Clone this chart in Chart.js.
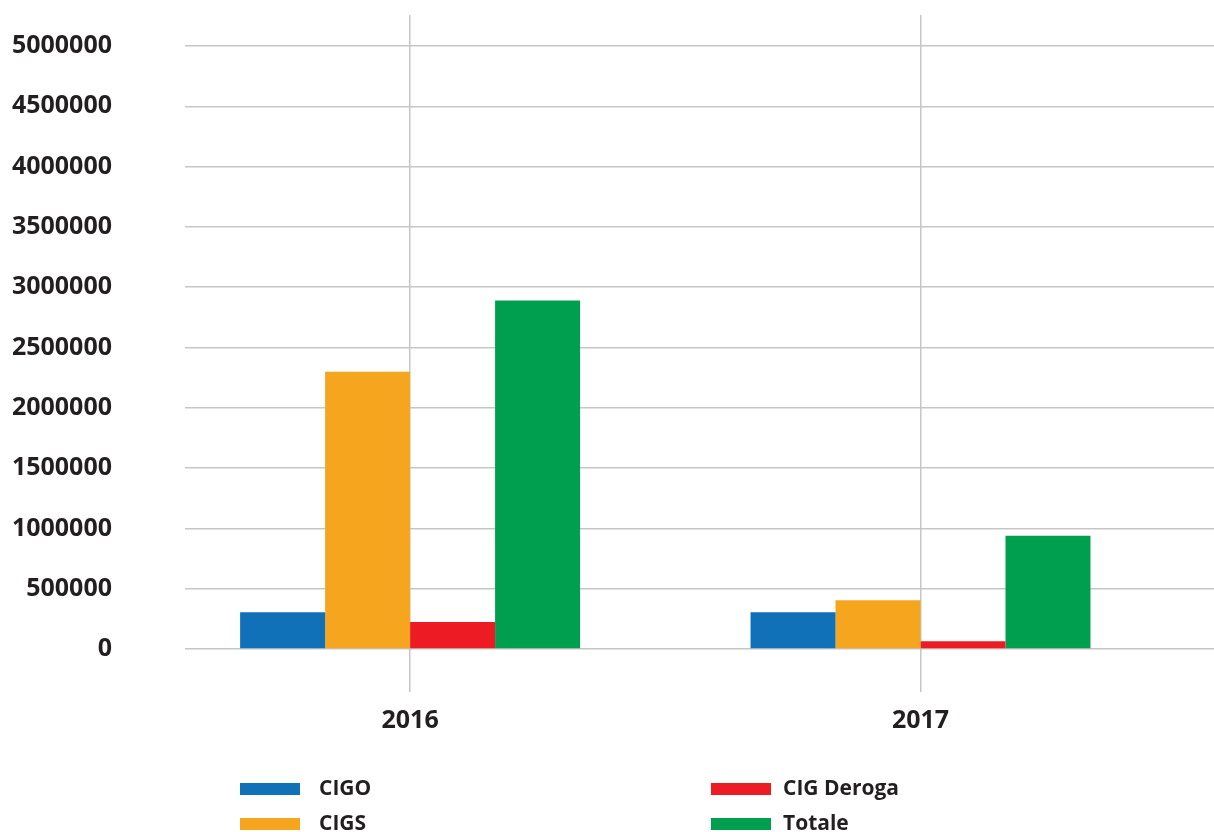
<!DOCTYPE html>
<html lang="it">
<head>
    <meta charset="UTF-8">
    <title>CIG 2016-2017</title>
    <script src="https://cdn.jsdelivr.net/npm/chart.js"></script>
    <style>
        html, body { margin: 0; padding: 0; background: #fff; }
        #wrap { width: 1214px; height: 832px; position: relative; }
    </style>
</head>
<body>
    <div id="wrap"><canvas id="cigChart"></canvas></div>
    <script>
        const years = [2016, 2017];
        const cigo = [305000, 305000];
        const cigs = [2300000, 405000];
        const cigDeroga = [225000, 65000];
        const totale = [2890000, 940000];
        const yTicks = [0, 500000, 1000000, 1500000, 2000000, 2500000, 3000000, 3500000, 4000000, 4500000, 5000000];

        const seriesNames = ['CIGO', 'CIGS', 'CIG Deroga', 'Totale'];
        const seriesColors = ['#1071b9', '#f6a51f', '#ed1c24', '#009f4f'];
        const seriesValues = [cigo, cigs, cigDeroga, totale];

        const textColor = '#231f20';
        const gridColor = '#c6c6c6';
        const fontFamily = '"Open Sans", "Liberation Sans", sans-serif';

        // legend in two columns, drawn by hand
        const legendPlugin = {
            id: 'twoColLegend',
            afterDraw(chart) {
                const ctx = chart.ctx;
                const boxX = [240, 711];
                const textX = [319, 783];
                const rowY = [789, 824];
                ctx.save();
                ctx.font = 'bold 21px ' + fontFamily;
                ctx.textBaseline = 'middle';
                chart.data.datasets.forEach((ds, i) => {
                    const col = Math.floor(i / 2), row = i % 2;
                    ctx.fillStyle = ds.backgroundColor;
                    ctx.fillRect(boxX[col], rowY[row] - 6, 60, 12);
                    ctx.fillStyle = textColor;
                    ctx.fillText(ds.label, textX[col], rowY[row]);
                });
                ctx.restore();
            }
        };

        const ctx = document.getElementById('cigChart').getContext('2d');
        new Chart(ctx, {
            type: 'bar',
            data: {
                datasets: seriesNames.map((name, i) => ({
                    label: name,
                    data: years.map((y, j) => ({ x: y, y: seriesValues[i][j] })),
                    backgroundColor: seriesColors[i],
                    borderWidth: 0,
                    barPercentage: 1,
                    categoryPercentage: 0.666
                }))
            },
            options: {
                responsive: true,
                maintainAspectRatio: false,
                animation: false,
                layout: { padding: { top: 15, right: 0, left: 0, bottom: 0 } },
                plugins: { legend: { display: false }, tooltip: { enabled: false } },
                scales: {
                    x: {
                        type: 'linear',
                        min: 2015.559,
                        max: 2017.575,
                        offset: false,
                        afterBuildTicks: s => { s.ticks = years.map(v => ({ value: v })); },
                        afterFit: s => { s.height = 140; s.paddingLeft = 0; s.paddingRight = 0; },
                        grid: { color: gridColor, lineWidth: 1.5, drawTicks: false, offset: false },
                        border: { display: false },
                        ticks: {
                            padding: 14,
                            color: textColor,
                            font: { family: fontFamily, size: 25, weight: 'bold' },
                            callback: v => String(v)
                        }
                    },
                    y: {
                        min: -356000,
                        max: 5257000,
                        afterBuildTicks: s => { s.ticks = yTicks.map(v => ({ value: v })); },
                        afterFit: s => { s.width = 185; s.paddingTop = 0; s.paddingBottom = 0; },
                        grid: { color: gridColor, lineWidth: 1.5, drawTicks: false },
                        border: { display: false },
                        ticks: {
                            padding: 73,
                            color: textColor,
                            font: { family: fontFamily, size: 25, weight: 'bold' },
                            callback: v => String(v)
                        }
                    }
                }
            },
            plugins: [legendPlugin]
        });
    </script>
</body>
</html>
